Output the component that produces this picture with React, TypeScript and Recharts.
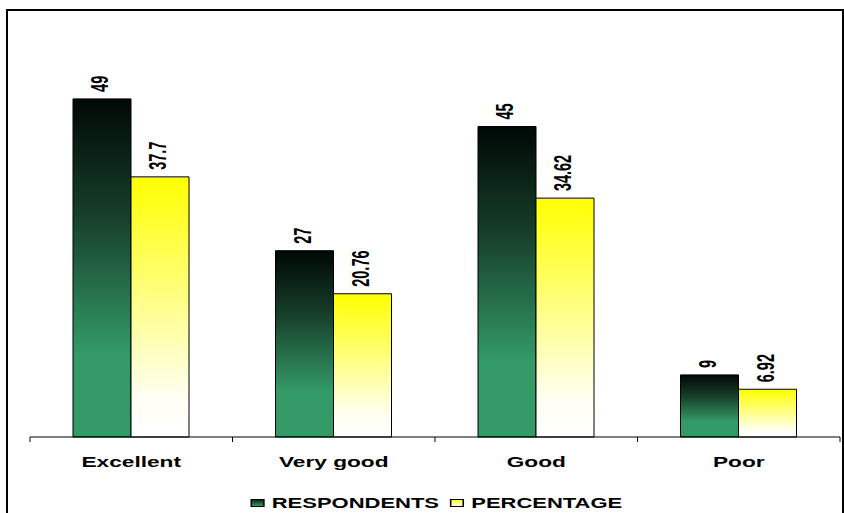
import { BarChart, Bar, XAxis, YAxis, LabelList } from 'recharts';

const categories = ['Excellent', 'Very good', 'Good', 'Poor'];
const respondents = [49, 27, 45, 9];
const percentage = [37.7, 20.76, 34.62, 6.92];

const chartData = categories.map((name, i) => ({
  name,
  respondents: respondents[i],
  percentage: percentage[i],
}));

const W = 844;
const H = 513;
const MARGIN = { top: 23, right: 4, left: 30, bottom: 36 };
const STRETCH = 1.62;
const LEGEND_STRETCH = 1.57;
const FONT = '"Liberation Sans", Arial, sans-serif';
const step = (W - MARGIN.left - MARGIN.right) / categories.length;

function CategoryTick(props: any) {
  const { x, y, payload, index } = props;
  const left = x - step / 2;
  return (
    <g>
      <line x1={left} x2={left} y1={y - 8} y2={y - 3} stroke="#000" strokeWidth={1} />
      {index === categories.length - 1 && (
        <line x1={x + step / 2} x2={x + step / 2} y1={y - 8} y2={y - 3} stroke="#000" strokeWidth={1} />
      )}
      <text
        transform={`translate(${x},${y + 22}) scale(${STRETCH},1)`}
        textAnchor="middle"
        fontFamily={FONT}
        fontWeight="bold"
        fontSize={14}
        fill="#000"
      >
        {payload.value}
      </text>
    </g>
  );
}

function ValueLabel(props: any) {
  const { x, y, width, value } = props;
  const cx = x + width / 2;
  return (
    <text
      transform={`translate(${cx + 6},${y - 7}) scale(${STRETCH},1) rotate(-90)`}
      textAnchor="start"
      fontFamily={FONT}
      fontWeight="bold"
      fontSize={14.5}
      fill="#000"
    >
      {value}
    </text>
  );
}

function ChartLegend() {
  const item = (fill: string, label: string, gap: number) => (
    <span style={{ display: 'inline-flex', alignItems: 'center', marginRight: gap }}>
      <span
        style={{
          display: 'inline-block',
          width: 7,
          height: 6,
          background: fill,
          border: '1px solid #000',
          marginRight: 4.5,
        }}
      />
      <span>{label}</span>
    </span>
  );
  return (
    <div
      style={{
        position: 'absolute',
        left: 0,
        top: 495,
        width: W,
        display: 'flex',
        justifyContent: 'center',
        paddingLeft: 28,
        boxSizing: 'border-box',
      }}
    >
      <div
        style={{
          transform: `scaleX(${LEGEND_STRETCH})`,
          fontFamily: FONT,
          fontWeight: 'bold',
          fontSize: 14,
          lineHeight: '16px',
          whiteSpace: 'nowrap',
          display: 'flex',
        }}
      >
        {item('linear-gradient(#0b2a1a, #339966)', 'RESPONDENTS', 7)}
        {item('linear-gradient(#ffff33, #ffffee)', 'PERCENTAGE', 0)}
      </div>
    </div>
  );
}

export default function App() {
  return (
    <div style={{ position: 'absolute', left: 0, top: 0, width: W, height: H, overflow: 'hidden', background: '#fff' }}>
      <div
        style={{
          position: 'absolute',
          left: 6,
          top: 9,
          width: W - 6,
          height: H + 20,
          border: '2px solid #000',
          boxSizing: 'border-box',
        }}
      />
      <div style={{ position: 'absolute', left: 0, top: 0 }}>
        <BarChart width={W} height={H} data={chartData} margin={MARGIN} barSize={58} barGap={0}>
          <defs>
            <linearGradient id="greenGrad" x1="0" y1="0" x2="0" y2="1">
              <stop offset="0%" stopColor="#000805" />
              <stop offset="35%" stopColor="#17402b" />
              <stop offset="75%" stopColor="#339966" />
              <stop offset="100%" stopColor="#339966" />
            </linearGradient>
            <linearGradient id="yellowGrad" x1="0" y1="0" x2="0" y2="1">
              <stop offset="0%" stopColor="#ffff00" />
              <stop offset="45%" stopColor="#ffff80" />
              <stop offset="85%" stopColor="#fffff4" />
              <stop offset="100%" stopColor="#ffffff" />
            </linearGradient>
          </defs>
          <XAxis
            dataKey="name"
            height={40}
            axisLine={{ stroke: '#000', strokeWidth: 1 }}
            tickLine={false}
            tick={<CategoryTick />}
            interval={0}
          />
          <YAxis hide domain={[0, 60]} />
          <Bar dataKey="respondents" name="RESPONDENTS" fill="url(#greenGrad)" stroke="#000" strokeWidth={1} isAnimationActive={false}>
            <LabelList dataKey="respondents" content={<ValueLabel />} />
          </Bar>
          <Bar dataKey="percentage" name="PERCENTAGE" fill="url(#yellowGrad)" stroke="#000" strokeWidth={1} isAnimationActive={false}>
            <LabelList dataKey="percentage" content={<ValueLabel />} />
          </Bar>
        </BarChart>
      </div>
      <ChartLegend />
    </div>
  );
}
